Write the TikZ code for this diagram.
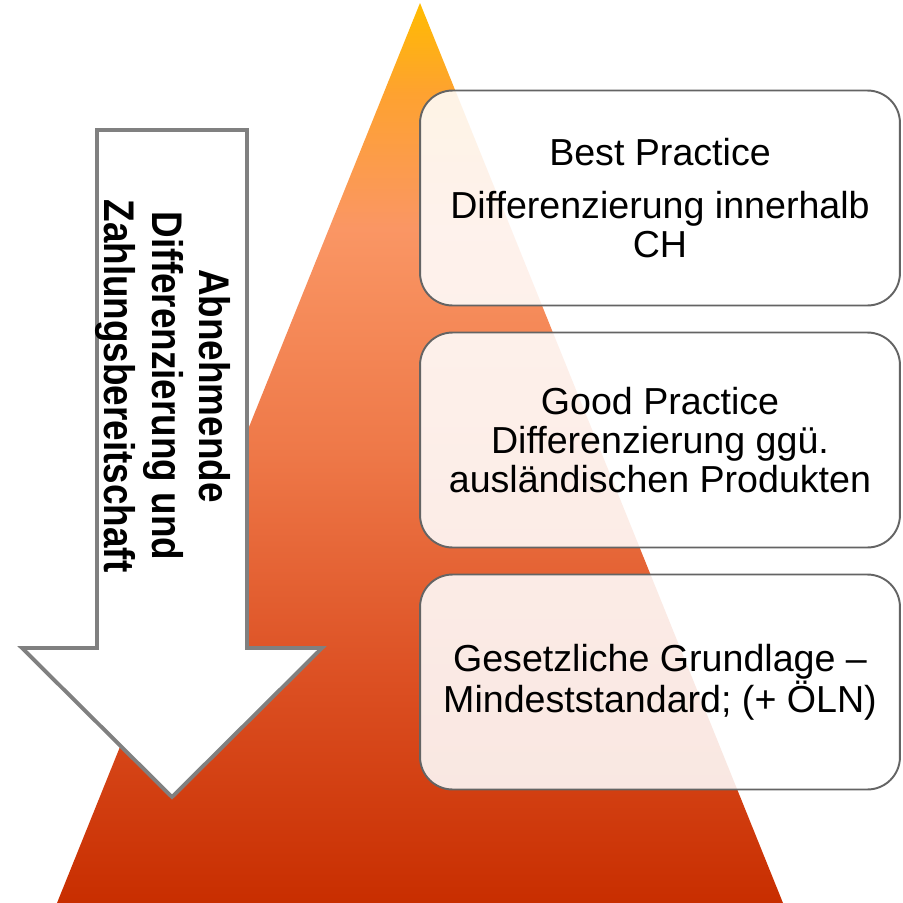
\documentclass[tikz,border=0pt]{standalone}
\usepackage{fontspec}
\setmainfont{Liberation Sans}

\definecolor{pyrA}{RGB}{255,188,0}
\definecolor{pyrB}{RGB}{254,162,48}
\definecolor{pyrC}{RGB}{250,150,100}
\definecolor{pyrD}{RGB}{238,120,72}
\definecolor{pyrE}{RGB}{220,80,35}
\definecolor{pyrF}{RGB}{200,46,0}
\definecolor{boxline}{RGB}{100,100,100}
\definecolor{arrline}{RGB}{128,128,128}

\pgfdeclareverticalshading{pyramid}{100bp}{color(0bp)=(pyrF); color(25bp)=(pyrF);
	color(37.5bp)=(pyrE); color(50bp)=(pyrD); color(62.5bp)=(pyrC);
	color(70bp)=(pyrB); color(75bp)=(pyrA); color(100bp)=(pyrA)}

\begin{document}
\begin{tikzpicture}[x=0.02cm,y=-0.02cm,
	stage/.style={draw=boxline,line width=1.1pt,rounded corners=0.65cm,
		fill=white,fill opacity=0.88,text opacity=1,
		minimum width=9.6cm,minimum height=4.3cm,align=center,
		font=\fontsize{21.4}{22.1}\selectfont}]

\useasboundingbox (0,0) rectangle (903,903);

% pyramid
\shade[shading=pyramid] (420,3) -- (783,903) -- (57,903) -- cycle;

% arrow
\draw[draw=arrline,fill=white,line width=2.2pt,line join=miter]
	(97,130) -- (247,130) -- (247,648) -- (322,648)
	-- (172,797) -- (22,648) -- (97,648) -- cycle;

\node[rotate=-90,xscale=0.86,align=center,
	font=\fontsize{24.4}{27.2}\selectfont\bfseries] (trend) at (163,386)
	{Abnehmende\\Differenzierung und\\Zahlungsbereitschaft};

% stages
\node[stage] (best) at (660,198)
	{Best Practice\\[8.5pt]Differenzierung innerhalb\\CH};
\node[stage] (good) at (660,440)
	{Good Practice\\Differenzierung ggü.\\ausländischen Produkten};
\node[stage] (law) at (660,682)
	{Gesetzliche Grundlage --\\Mindeststandard; (+ ÖLN)};

\end{tikzpicture}
\end{document}
